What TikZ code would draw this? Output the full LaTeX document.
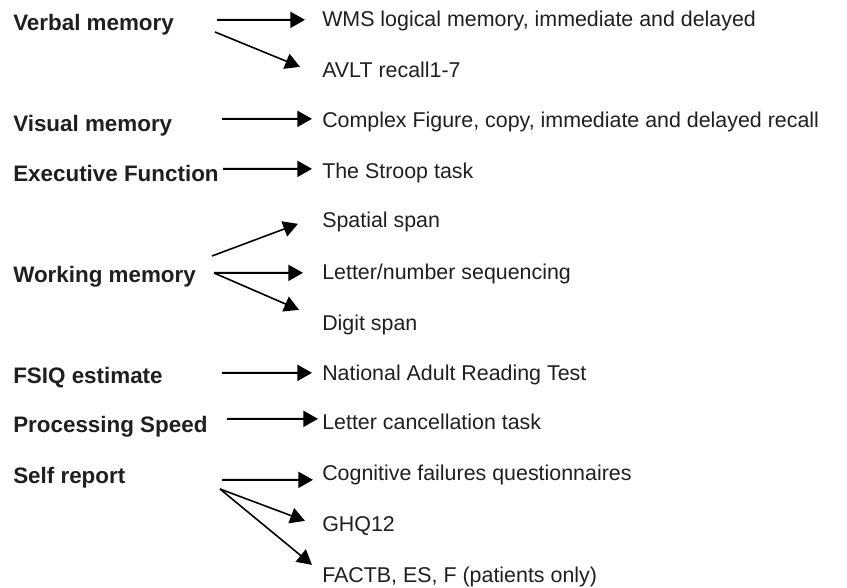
\documentclass[tikz,border=0pt]{standalone}
\usepackage{fontspec}
\setmainfont{Liberation Sans}
\usetikzlibrary{arrows.meta}
\usetikzlibrary{calc}

\begin{document}
\begin{tikzpicture}[x=0.75pt,y=-0.75pt,
  areabox/.style={anchor=base west,inner sep=0pt,text=black!88,font=\fontsize{16.8}{20}\selectfont\bfseries},
  testbox/.style={anchor=base west,inner sep=0pt,text height=11.5pt,text depth=0pt,text=black!88,font=\fontsize{16.05}{19}\selectfont},
  link/.style={line width=1.5pt,-{Triangle[length=11pt,width=12pt]}},
  slant/.style={link,line width=1.2pt}]
       \useasboundingbox (0,0) rectangle (847,588);

       % areas
       \node[areabox] (verbal) at (13,31) {Verbal memory};
       \node[areabox] (visual) at (13,132) {Visual memory};
       \node[areabox] (exec) at (13,182) {Executive Function};
       \node[areabox] (working) at (13,283) {Working memory};
       \node[areabox] (fsiq) at (13,383) {FSIQ estimate};
       \node[areabox] (speed) at (13,432) {Processing Speed};
       \node[areabox] (self) at (13,483) {Self report};

       % tests
       \node[testbox] (wms) at (322,27) {WMS logical memory, immediate and delayed};
       \node[testbox] (avlt) at (322,78) {AVLT recall1-7};
       \node[testbox] (cfig) at (322,128) {Complex Figure, copy, immediate and delayed recall};
       \node[testbox] (stroop) at (322,179) {The Stroop task};
       \node[testbox] (spatial) at (322,228) {Spatial span};
       \node[testbox] (lns) at (322,280) {Letter/number sequencing};
       \node[testbox] (digit) at (322,330) {Digit span};
       \node[testbox] (nart) at (322,380) {National Adult Reading Test};
       \node[testbox] (lct) at (322,429) {Letter cancellation task};
       \node[testbox] (cfq) at (322,480) {Cognitive failures questionnaires};
       \node[testbox] (ghq) at (322,531) {GHQ12};
       \node[testbox] (factb) at (322,582) {FACTB, ES, F (patients only)};

       % arrow tails
       \coordinate (verbal-a) at (217,20);
       \coordinate (verbal-b) at (215,32);
       \coordinate (visual-a) at (222,119);
       \coordinate (exec-a) at (223,169);
       \coordinate (working-a) at (212,256);
       \coordinate (working-b) at (214,273);
       \coordinate (fsiq-a) at (222,373);
       \coordinate (speed-a) at (227,419);
       \coordinate (self-a) at (222,480);
       \coordinate (self-b) at (220,489);

       \draw[link] (verbal-a) -- ($(wms.west)+(-17,0.5)$);
       \draw[slant] (verbal-b) -- ($(avlt.west)+(-22,-3.5)$);
       \draw[link] (visual-a) -- ($(cfig.west)+(-10,-1.5)$);
       \draw[link] (exec-a) -- ($(stroop.west)+(-10,-2.5)$);
       \draw[slant] (working-a) -- ($(spatial.west)+(-24,3.5)$);
       \draw[link] (working-b) -- ($(lns.west)+(-19,0.5)$);
       \draw[slant] (working-b) -- ($(digit.west)+(-23,-12.5)$);
       \draw[link] (fsiq-a) -- ($(nart.west)+(-10,0.5)$);
       \draw[link] (speed-a) -- ($(lct.west)+(-4,-2.5)$);
       \draw[link] (self-a) -- ($(cfq.west)+(-9,7.5)$);
       \draw[slant] (self-b) -- ($(ghq.west)+(-17,-2.5)$);
       \draw[slant] (self-b) -- ($(factb.west)+(-10,-9.5)$);
      \end{tikzpicture}
\end{document}
